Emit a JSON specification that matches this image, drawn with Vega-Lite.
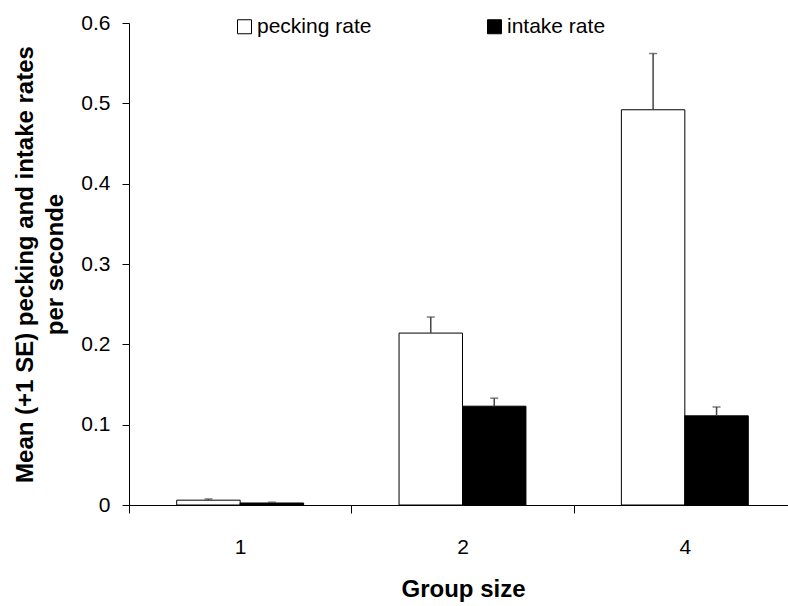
{
  "$schema": "https://vega.github.io/schema/vega-lite/v6.json",
  "autosize": "none",
  "width": 659,
  "height": 482,
  "padding": {"left": 129, "top": 23, "right": 0, "bottom": 101},
  "background": "white",
  "config": {
    "font": "Liberation Sans",
    "view": {"stroke": null},
    "axis": {"grid": false, "domainColor": "black", "tickColor": "black", "labelColor": "black", "titleColor": "black", "labelFont": "Liberation Sans", "titleFont": "Liberation Sans"}
  },
  "data": {
    "values": [
      {"group": "1", "series": "pecking rate", "mean": 0.006, "upper": 0.0075},
      {"group": "1", "series": "intake rate", "mean": 0.0025, "upper": 0.0035},
      {"group": "2", "series": "pecking rate", "mean": 0.214, "upper": 0.234},
      {"group": "2", "series": "intake rate", "mean": 0.123, "upper": 0.133},
      {"group": "4", "series": "pecking rate", "mean": 0.492, "upper": 0.562},
      {"group": "4", "series": "intake rate", "mean": 0.111, "upper": 0.122}
    ]
  },
  "encoding": {
    "x": {
      "field": "group", "type": "nominal", "sort": ["1", "2", "4"],
      "scale": {"paddingInner": 0, "paddingOuter": 0, "range": [0, 667]},
      "axis": {
        "title": "Group size", "titleFontSize": 24, "titleFontWeight": "bold",
        "titleBaseline": "alphabetic", "titleX": 334, "titleY": 91,
        "labelAngle": 0, "labelFontSize": 21, "labelPadding": 23,
        "tickBand": "extent", "tickSize": 8, "domainWidth": 1
      }
    },
    "xOffset": {
      "field": "series", "type": "nominal", "sort": ["pecking rate", "intake rate"],
      "scale": {"paddingInner": 0, "paddingOuter": 0.752}
    }
  },
  "layer": [
    {
      "mark": {"type": "bar", "stroke": "black", "strokeWidth": 1},
      "encoding": {
        "y": {
          "field": "mean", "type": "quantitative",
          "scale": {"domain": [0, 0.6], "nice": false},
          "axis": {
            "title": ["Mean (+1 SE) pecking and intake rates", "per seconde"],
            "titleFontSize": 24, "titleFontWeight": "bold", "titleLineHeight": 30,
            "titleBaseline": "alphabetic", "titleX": -97, "titleY": 241, "titleAngle": -90,
            "values": [0, 0.1, 0.2, 0.3, 0.4, 0.5, 0.6],
            "labelExpr": "datum.value == 0 ? '0' : format(datum.value, '.1f')",
            "labelFontSize": 21, "labelPadding": 12, "tickSize": 7
          }
        },
        "fill": {
          "field": "series", "type": "nominal",
          "scale": {"domain": ["pecking rate", "intake rate"], "range": ["white", "black"]},
          "legend": {
            "title": null, "orient": "none", "direction": "horizontal",
            "legendX": 105, "legendY": -7, "padding": 0,
            "symbolType": "square", "symbolSize": 196,
            "symbolStrokeColor": "black", "symbolStrokeWidth": 1,
            "labelFontSize": 21, "labelFont": "Liberation Sans", "labelColor": "black",
            "labelOffset": 2, "columnPadding": 112, "labelLimit": 300
          }
        }
      }
    },
    {
      "mark": {"type": "rule", "color": "#444", "strokeWidth": 1.5},
      "encoding": {
        "y": {"field": "mean", "type": "quantitative"},
        "y2": {"field": "upper"}
      }
    },
    {
      "mark": {"type": "tick", "color": "#444", "size": 8, "thickness": 1.5},
      "encoding": {
        "y": {"field": "upper", "type": "quantitative"}
      }
    }
  ]
}
